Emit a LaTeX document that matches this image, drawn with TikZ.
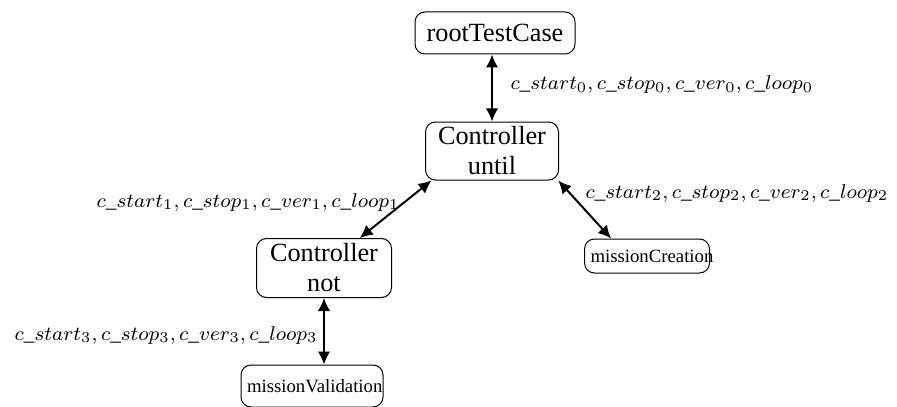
\documentclass[tikz,border=0pt]{standalone}
\usepackage{fontspec}
\setmainfont{Liberation Serif}
\usetikzlibrary{arrows.meta}

\begin{document}
\begin{tikzpicture}[x=0.4pt,y=-0.4pt,
    block/.style ={rectangle, rounded corners=4pt, draw, inner sep=0pt, align=center, font=\fontsize{10.5}{12}\selectfont},
    leaf/.style ={rectangle, rounded corners=4pt, draw, inner xsep=2.4pt, inner ysep=0pt, align=left, font=\fontsize{7.5}{9}\selectfont},
    link/.style ={thick, {Latex[length=5.2pt,width=5pt]}-{Latex[length=5.2pt,width=5pt]}},
    signals/.style ={inner sep=0pt, font=\fontsize{8.5}{10}\selectfont}]
   \useasboundingbox (0,0) rectangle (897,406);
   \node[block, minimum width=64pt, minimum height=16.8pt] (root) at (495,33) {rootTestCase};
   \node[block, minimum width=53.2pt, minimum height=23.2pt] (until) at (492,151) {Controller\\until};
   \node[block, minimum width=54pt, minimum height=23.6pt] (not) at (324,268) {Controller\\not};
   \node[leaf, text width=45.2pt, minimum height=13.6pt] (creation) at (647,256) {missionCreation};
   \node[leaf, text width=52pt, minimum height=16.8pt] (validation) at (312,386) {missionValidation};
   \draw[link] (until.north |- root.south) to (until.north);
   \draw[link] (until.206) to (not.40);
   \draw[link] (until.-24) to (creation.154);
   \draw[link] (not.south) to (not.south |- validation.north);
   \node[signals, anchor=west] (s0) at (510,85) {$c\_start_0, c\_stop_0, c\_ver_0, c\_loop_0$};
   \node[signals, anchor=east] (s1) at (400,202) {$c\_start_1, c\_stop_1, c\_ver_1, c\_loop_1$};
   \node[signals, anchor=west] (s2) at (585,193) {$c\_start_2, c\_stop_2, c\_ver_2, c\_loop_2$};
   \node[signals, anchor=east] (s3) at (318,335) {$c\_start_3, c\_stop_3, c\_ver_3, c\_loop_3$};
 \end{tikzpicture}
\end{document}
